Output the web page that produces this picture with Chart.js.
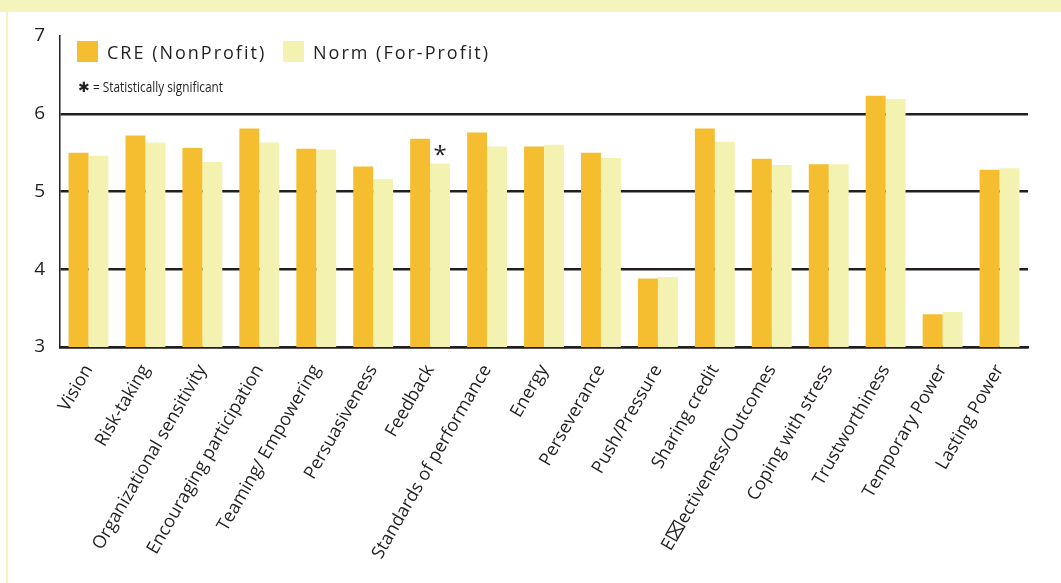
<!DOCTYPE html>
<html>
<head>
<meta charset="utf-8">
<script src="https://cdn.jsdelivr.net/npm/chart.js@4.4.1/dist/chart.umd.min.js"></script>
<style>
  html, body { margin: 0; padding: 0; background: #ffffff; }
  #page { position: relative; width: 1061px; height: 583px; overflow: hidden; }
  #band { position: absolute; left: 0; top: 0; width: 1061px; height: 12px; background: #F5F4BC; }
  #edge { position: absolute; left: 6px; top: 12px; width: 2px; height: 571px; background: #F5F4BC; }
  #wrap { position: absolute; left: 0; top: 0; width: 1061px; height: 583px; }
</style>
</head>
<body>
<div id="page">
  <div id="band"></div>
  <div id="edge"></div>
  <div id="wrap"><canvas id="leadershipChart"></canvas></div>
</div>
<script>
var categories = [
    'Vision', 'Risk-taking', 'Organizational sensitivity', 'Encouraging participation',
    'Teaming/ Empowering', 'Persuasiveness', 'Feedback', 'Standards of performance',
    'Energy', 'Perseverance', 'Push/Pressure', 'Sharing credit',
    'E\u2327ectiveness/Outcomes', 'Coping with stress', 'Trustworthiness',
    'Temporary Power', 'Lasting Power'
]

var creValues = [5.50, 5.72, 5.56, 5.81, 5.55, 5.32, 5.68, 5.76, 5.58, 5.50, 3.88, 5.81, 5.42, 5.35, 6.23, 3.42, 5.28]
var normValues = [5.46, 5.63, 5.38, 5.63, 5.54, 5.16, 5.36, 5.58, 5.60, 5.43, 3.90, 5.64, 5.34, 5.35, 6.19, 3.45, 5.30]

var seriesNames = ['CRE (NonProfit)', 'Norm (For-Profit)']
var yTicks = [3, 4, 5, 6, 7]

// index of the Norm bar that carries the significance mark
var significant = [6]

var colors = ['#F4BE30', '#F3F2B0']
var ink = '#231F20'

// legend and significance marks drawn inside the plot area
var markPlugin = {
    id: 'marks',
    afterDatasetsDraw: function (chart) {
        var ctx = chart.ctx
        ctx.save()
        ctx.fillStyle = ink
        ctx.textBaseline = 'alphabetic'

        // legend
        var legendX = [77, 283]
        chart.data.datasets.forEach(function (ds, i) {
            ctx.fillStyle = ds.backgroundColor
            ctx.fillRect(legendX[i], 41, 21, 21)
            ctx.fillStyle = ink
            ctx.font = '18px "Open Sans"'
            ctx.letterSpacing = '2px'
            ctx.fillText(ds.label, legendX[i] + 30, 59)
        })
        ctx.letterSpacing = '0px'

        // note
        ctx.font = '14px "DejaVu Sans"'
        ctx.fillText('\u2731', 78, 92)
        ctx.save()
        ctx.font = '15px "Open Sans"'
        var note = '= Statistically significant'
        var w = ctx.measureText(note).width
        ctx.translate(93, 92)
        ctx.scale(130 / w, 1)
        ctx.fillText(note, 0, 0)
        ctx.restore()

        // asterisk above significant bars
        ctx.font = '24px "Open Sans"'
        ctx.textAlign = 'center'
        var meta = chart.getDatasetMeta(1)
        significant.forEach(function (idx) {
            var bar = meta.data[idx]
            var m = ctx.measureText('*')
            ctx.fillText('*', bar.x, bar.y - 8 - m.actualBoundingBoxDescent)
        })
        ctx.restore()
    }
}

var chartData = {
    labels: categories,
    datasets: [
        { label: seriesNames[0], data: creValues, backgroundColor: colors[0], categoryPercentage: 0.7, barPercentage: 1.0 },
        { label: seriesNames[1], data: normValues, backgroundColor: colors[1], categoryPercentage: 0.7, barPercentage: 1.0 }
    ]
}

var chartOptions = {
    responsive: true,
    maintainAspectRatio: false,
    animation: false,
    layout: { padding: { left: 0, right: 33, top: 36, bottom: 0 } },
    plugins: {
        legend: { display: false },
        tooltip: { enabled: false }
    },
    scales: {
        x: {
            grid: { display: false },
            border: { display: true, color: ink, width: 2.5 },
            ticks: {
                color: ink,
                font: { family: '"Open Sans"', size: 18 },
                minRotation: 60,
                maxRotation: 60,
                autoSkip: false,
                padding: 6
            },
            afterFit: function (scale) { scale.height = 236 }
        },
        y: {
            min: 3,
            max: 7,
            afterBuildTicks: function (scale) {
                scale.ticks = yTicks.map(function (v) { return { value: v } })
            },
            grid: {
                drawTicks: false,
                lineWidth: 2.5,
                color: function (c) { return c.tick && c.tick.value === 7 ? 'rgba(0,0,0,0)' : ink }
            },
            border: { display: true, color: ink, width: 1.5 },
            ticks: {
                color: ink,
                font: { family: '"Open Sans"', size: 19 },
                padding: 15
            },
            afterFit: function (scale) { scale.width = 60 }
        }
    }
}

var canvas = document.getElementById('leadershipChart').getContext('2d')
// eslint-disable-next-line no-unused-vars
var leadershipChart = new Chart(canvas, {
    type: 'bar',
    data: chartData,
    options: chartOptions,
    plugins: [markPlugin]
})
</script>
</body>
</html>
